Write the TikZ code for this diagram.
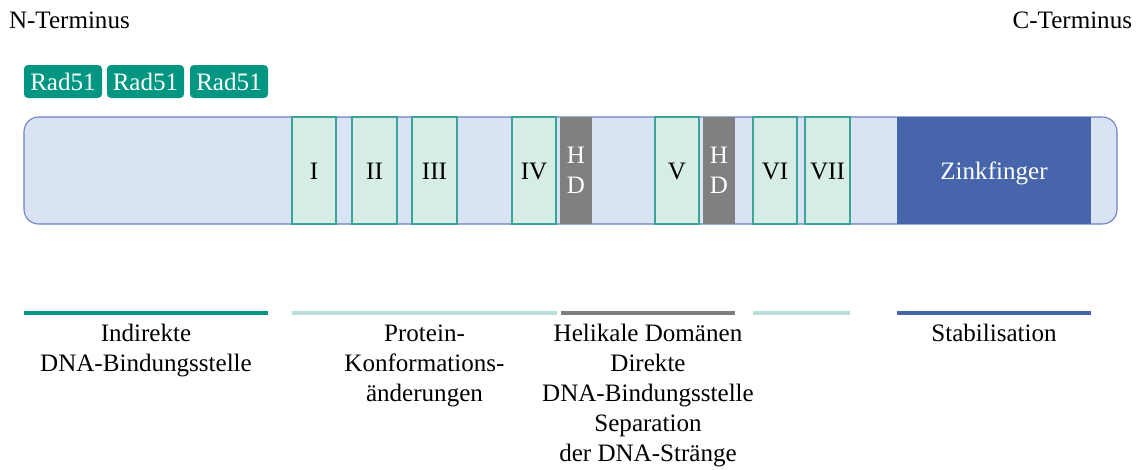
\documentclass[tikz,border=0pt]{standalone}
\usepackage{fontspec}
\setmainfont{Liberation Serif}
\definecolor{tealdark}{HTML}{009682}
\definecolor{motiffill}{HTML}{D5ECE7}
\definecolor{motifdraw}{HTML}{3AA596}
\definecolor{barfill}{HTML}{DAE3F3}
\definecolor{bardraw}{HTML}{6A80C0}
\definecolor{zinkblue}{HTML}{4665AB}
\definecolor{hdgray}{HTML}{808080}
\definecolor{lightteal}{HTML}{B8E0D9}
\begin{document}
\begin{tikzpicture}[x=0.75pt,y=-0.75pt,
  every node/.style={font=\fontsize{18.8}{22.5}\selectfont, inner sep=0pt, outer sep=0pt},
  radbox/.style={fill=tealdark, rounded corners=3pt, text=white, minimum height=24.75pt, text height=13pt, text depth=0pt},
  barbox/.style={fill=barfill, draw=bardraw, line width=0.8pt, rounded corners=11pt, minimum width=819.75pt, minimum height=80.25pt},
  motif/.style={fill=motiffill, draw=motifdraw, line width=1pt, minimum height=80.25pt, text height=13pt, text depth=0pt},
  hdbox/.style={fill=hdgray, minimum width=24pt, minimum height=80.25pt, text=white, align=center},
  zinkbox/.style={fill=zinkblue, minimum width=145.5pt, minimum height=80.25pt, text=white, text height=13pt, text depth=0pt},
  domline/.style={line width=2.5pt},
  lbl/.style={align=center, anchor=base}
]
\useasboundingbox (0,0) rectangle (1138,469);

\node[anchor=base west] (nterm) at (9,28) {N-Terminus};
\node[anchor=base east] (cterm) at (1132,28) {C-Terminus};

\node[radbox, minimum width=58.5pt] (r1) at (63,81.5) {Rad51};
\node[radbox, minimum width=57.75pt] (r2) at (145.5,81.5) {Rad51};
\node[radbox, minimum width=58.5pt] (r3) at (229,81.5) {Rad51};

\node[barbox] (bar) at (570.5,170.5) {};

\node[motif, minimum width=33pt] (m1) at (314,170.5) {I};
\node[motif, minimum width=33.75pt] (m2) at (374.5,170.5) {II};
\node[motif, minimum width=33.75pt] (m3) at (434.5,170.5) {III};
\node[motif, minimum width=33pt] (m4) at (534,170.5) {IV};
\node[hdbox] (hd1) at (576,170.5) {H\\D};
\node[motif, minimum width=33pt] (m5) at (677,170.5) {V};
\node[hdbox] (hd2) at (719,170.5) {H\\D};
\node[motif, minimum width=33pt] (m6) at (775,170.5) {VI};
\node[motif, minimum width=33.75pt] (m7) at (827.5,170.5) {VII};
\node[zinkbox] (zf) at (994,170.5) {Zinkfinger};

\coordinate (a1) at (24,313);  \coordinate (b1) at (268,313);
\coordinate (a2) at (292,313); \coordinate (b2) at (557,313);
\coordinate (a3) at (561,313); \coordinate (b3) at (735,313);
\coordinate (a4) at (753,313); \coordinate (b4) at (850,313);
\coordinate (a5) at (897,313); \coordinate (b5) at (1091,313);
\draw[domline, tealdark] (a1) -- (b1);
\draw[domline, lightteal] (a2) -- (b2);
\draw[domline, hdgray] (a3) -- (b3);
\draw[domline, lightteal] (a4) -- (b4);
\draw[domline, zinkblue] (a5) -- (b5);

\node[lbl] (t1) at (146,371.7) {Indirekte\\DNA-Bindungsstelle};
\node[lbl] (t2) at (424.5,401.7) {Protein-\\Konformations-\\änderungen};
\node[lbl] (t3) at (648,461.7) {Helikale Domänen\\Direkte\\DNA-Bindungsstelle\\Separation\\der DNA-Stränge};
\node[lbl] (t5) at (994,341.7) {Stabilisation};
\end{tikzpicture}
\end{document}
